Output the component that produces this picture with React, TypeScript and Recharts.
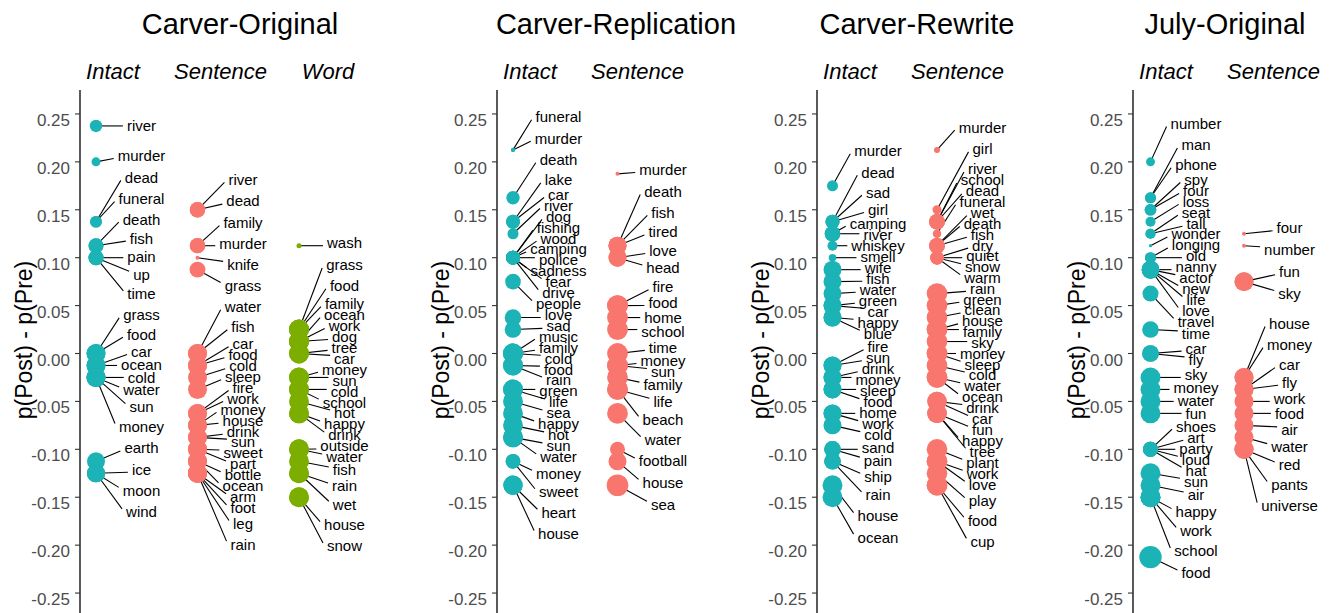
import React from 'react';
import { ScatterChart, Scatter, XAxis, YAxis } from 'recharts';

// p(Post) - p(Pre) per recalled word; n drives the point size
const coIntactWords = ['river', 'murder', 'dead', 'funeral', 'death', 'fish', 'pain', 'up', 'time', 'grass', 'food', 'car', 'ocean', 'cold', 'water', 'sun', 'money', 'earth', 'ice', 'moon', 'wind'];
const coIntactDiff = [0.2375, 0.2, 0.1375, 0.1375, 0.1125, 0.1125, 0.1, 0.1, 0.1, 0, 0, -0.0125, -0.0125, -0.025, -0.025, -0.025, -0.025, -0.1125, -0.125, -0.125, -0.125];
const coIntactN = [4.3, 2.25, 3.8, 3.8, 6.25, 6.25, 6.25, 6.25, 6.25, 10, 10, 10, 10, 10, 10, 10, 10, 9, 9, 9, 9];

const coSentenceWords = ['river', 'dead', 'family', 'murder', 'knife', 'grass', 'water', 'fish', 'car', 'food', 'cold', 'sleep', 'fire', 'work', 'money', 'house', 'drink', 'sun', 'sweet', 'part', 'bottle', 'ocean', 'arm', 'foot', 'leg', 'rain'];
const coSentenceDiff = [0.15, 0.15, 0.1125, 0.1125, 0.1, 0.0875, 0, 0, -0.0125, -0.0125, -0.025, -0.0375, -0.0625, -0.0625, -0.075, -0.075, -0.0875, -0.0875, -0.1, -0.1, -0.1125, -0.1125, -0.125, -0.125, -0.125, -0.125];
const coSentenceN = [6.5, 6.5, 6.5, 6.5, 0.45, 7, 10, 10, 10, 10, 10, 10, 10, 10, 10, 10, 10, 10, 10, 10, 10, 10, 10, 10, 10, 10];

const coWordWords = ['wash', 'grass', 'food', 'family', 'ocean', 'work', 'dog', 'tree', 'car', 'money', 'sun', 'cold', 'school', 'hot', 'happy', 'drink', 'outside', 'water', 'fish', 'rain', 'wet', 'house', 'snow'];
const coWordDiff = [0.1125, 0.025, 0.025, 0.025, 0.0125, 0.0125, 0.0125, 0, 0, -0.025, -0.025, -0.0375, -0.0375, -0.05, -0.0625, -0.0625, -0.1, -0.1, -0.1125, -0.125, -0.125, -0.15, -0.15];
const coWordN = [0.7, 11, 11, 11, 11, 11, 11, 11, 11, 11, 11, 11, 11, 11, 11, 11, 11, 11, 11, 11, 11, 11, 11];

const crIntactWords = ['funeral', 'murder', 'death', 'lake', 'car', 'river', 'dog', 'fishing', 'wood', 'camping', 'police', 'sadness', 'fear', 'drive', 'people', 'love', 'sad', 'music', 'family', 'cold', 'food', 'rain', 'green', 'life', 'sea', 'happy', 'hot', 'sun', 'water', 'money', 'sweet', 'heart', 'house'];
const crIntactDiff = [0.2125, 0.2125, 0.1625, 0.1375, 0.1375, 0.125, 0.1, 0.1, 0.1, 0.1, 0.1, 0.1, 0.1, 0.1, 0.075, 0.0375, 0.025, 0, 0, 0, -0.0125, -0.0125, -0.0375, -0.0375, -0.05, -0.0625, -0.075, -0.0875, -0.0875, -0.1125, -0.1125, -0.1375, -0.1375];
const crIntactN = [0.45, 0.45, 5, 5.4, 5.4, 3.4, 5.4, 5.4, 5.4, 5.4, 5.4, 5.4, 5.4, 5.4, 6.8, 7.7, 7.7, 11, 11, 11, 11, 11, 11, 11, 11, 11, 11, 11, 11, 6, 6, 10.4, 10.4];

const crSentenceWords = ['murder', 'death', 'fish', 'tired', 'love', 'head', 'fire', 'food', 'home', 'school', 'time', 'money', 'sun', 'family', 'life', 'beach', 'water', 'football', 'house', 'sea'];
const crSentenceDiff = [0.1875, 0.1125, 0.1125, 0.1125, 0.1, 0.1, 0.05, 0.05, 0.0375, 0.025, 0, -0.0125, -0.0125, -0.025, -0.0375, -0.0375, -0.0625, -0.1, -0.1125, -0.1375];
const crSentenceN = [0.45, 9, 9, 9, 9, 9, 12, 12, 12, 12, 12, 12, 12, 12, 12, 12, 12, 6.25, 9, 13];

const cwIntactWords = ['murder', 'dead', 'sad', 'girl', 'camping', 'river', 'whiskey', 'smell', 'wife', 'fish', 'water', 'green', 'car', 'happy', 'blue', 'fire', 'sun', 'drink', 'money', 'sleep', 'food', 'home', 'work', 'cold', 'sand', 'pain', 'ship', 'rain', 'house', 'ocean'];
const cwIntactDiff = [0.175, 0.1375, 0.1375, 0.1375, 0.125, 0.125, 0.1125, 0.1, 0.0875, 0.075, 0.0625, 0.05, 0.05, 0.0375, 0.0375, -0.0125, -0.0125, -0.025, -0.025, -0.0375, -0.0375, -0.0625, -0.0625, -0.075, -0.1, -0.1, -0.1125, -0.1125, -0.1375, -0.15];
const cwIntactN = [3.4, 5.4, 5.4, 5.4, 6.8, 6.8, 2.8, 1.6, 9, 9, 9, 9, 9, 9, 9, 9, 9, 9, 9, 9, 9, 9, 9, 9, 7.7, 7.7, 7.7, 7.7, 11, 11];

const cwSentenceWords = ['murder', 'girl', 'river', 'school', 'dead', 'funeral', 'wet', 'death', 'fish', 'dry', 'quiet', 'snow', 'warm', 'rain', 'green', 'clean', 'house', 'family', 'sky', 'money', 'sleep', 'cold', 'water', 'ocean', 'drink', 'car', 'fun', 'happy', 'tree', 'plant', 'work', 'love', 'play', 'food', 'cup'];
const cwSentenceDiff = [0.2125, 0.15, 0.1375, 0.1375, 0.1375, 0.125, 0.1125, 0.1125, 0.1125, 0.1, 0.1, 0.1, 0.1, 0.0625, 0.05, 0.0375, 0.025, 0.025, 0.0125, 0, 0, -0.0125, -0.025, -0.025, -0.05, -0.05, -0.0625, -0.0625, -0.0625, -0.1, -0.1125, -0.1125, -0.125, -0.1375, -0.1375];
const cwSentenceN = [1, 2.25, 6.8, 6.8, 6.8, 2, 6.8, 6.8, 6.8, 5, 5, 5, 5, 11.8, 11.8, 11.8, 11.8, 11.8, 11.8, 11.8, 11.8, 11.8, 11.8, 11.8, 10.4, 10.4, 10.4, 10.4, 10.4, 11.8, 11.8, 11.8, 11.8, 11.8, 11.8];

const joIntactWords = ['number', 'man', 'phone', 'spy', 'four', 'loss', 'seat', 'tall', 'wonder', 'longing', 'old', 'nanny', 'actor', 'new', 'life', 'love', 'travel', 'time', 'car', 'fly', 'sky', 'money', 'water', 'fun', 'shoes', 'art', 'party', 'loud', 'hat', 'sun', 'air', 'happy', 'work', 'school', 'food'];
const joIntactDiff = [0.2, 0.1625, 0.1625, 0.15, 0.15, 0.1375, 0.125, 0.125, 0.1125, 0.1, 0.1, 0.0875, 0.0875, 0.0875, 0.0875, 0.0875, 0.0625, 0.025, 0, 0, -0.025, -0.0375, -0.05, -0.0625, -0.1, -0.1, -0.1, -0.1, -0.1, -0.125, -0.1375, -0.15, -0.15, -0.15, -0.2125];
const joIntactN = [2.25, 3.4, 3.4, 3.8, 3.8, 2.8, 2.8, 2.8, 0.3, 3.4, 3.4, 8.6, 8.6, 8.6, 8.6, 8.6, 7.1, 7.7, 7.7, 7.7, 11, 11, 11, 11, 6.25, 6.25, 6.25, 6.25, 6.25, 11, 11, 11, 11, 11, 14];

const joSentenceWords = ['four', 'number', 'fun', 'sky', 'house', 'money', 'car', 'fly', 'work', 'food', 'air', 'water', 'red', 'pants', 'universe'];
const joSentenceDiff = [0.125, 0.1125, 0.075, 0.075, -0.025, -0.025, -0.0375, -0.0375, -0.05, -0.0625, -0.075, -0.0875, -0.1, -0.1, -0.1];
const joSentenceN = [0.45, 0.45, 10, 10, 10, 10, 10, 10, 10, 10, 10, 10, 10, 10, 10];

const yTicks = [-0.25, -0.2, -0.15, -0.1, -0.05, 0, 0.05, 0.1, 0.15, 0.2, 0.25];

const COLORS: Record<string, string> = { Intact: '#1BB3B5', Sentence: '#F8766D', Word: '#7CAE00' };
const FONT = '"Liberation Sans", Arial, Helvetica, sans-serif';

// layout
const PLOT_TOP = 90;
const PLOT_H = 527;
const Y_MIN = -0.275;
const Y_MAX = 0.275;
const CHART_H = PLOT_TOP + PLOT_H;
const AXIS_W = 80;
const LABEL_DX = 45.5;
const LABEL_SIZE = 15;

// label repel settings (px)
const SOFT_GAP = 22;
const HARD_GAP = 11;
const ATTRACT = 0.02;
const REPEL = 2;
const PUSH_SOFT = 1.5;
const LABEL_TOP = 102;
const LABEL_BOTTOM = 600;

const toPx = (v: number) => PLOT_TOP + ((Y_MAX - v) / (Y_MAX - Y_MIN)) * PLOT_H;

let ctx: CanvasRenderingContext2D | null = null;
const textWidth = (s: string) => {
  if (!ctx && typeof document !== 'undefined') ctx = document.createElement('canvas').getContext('2d');
  if (!ctx) return s.length * 7.5;
  ctx.font = `${LABEL_SIZE}px ${FONT}`;
  return ctx.measureText(s).width;
};

// 1-d ggrepel-like spreading: pull to the point, saturating push between neighbours
function spread(targets: number[]): number[] {
  const n = targets.length;
  const p = targets.slice();
  for (let it = 0; it < 8000; it++) {
    const g = targets.map((t, i) => ATTRACT * (t - p[i]));
    for (let i = 0; i + 1 < n; i++) {
      const o = SOFT_GAP - (p[i + 1] - p[i]);
      if (o > 0) {
        const f = (REPEL * o) / (1 + o / PUSH_SOFT);
        g[i] -= f;
        g[i + 1] += f;
      }
    }
    for (let i = 0; i < n; i++) p[i] += 0.15 * g[i];
    for (let k = 0; k < 3; k++) {
      for (let i = 0; i + 1 < n; i++) {
        const o = HARD_GAP - (p[i + 1] - p[i]);
        if (o > 0) {
          p[i] -= o / 2;
          p[i + 1] += o / 2;
        }
      }
      for (let i = 0; i < n; i++) p[i] = Math.max(LABEL_TOP, Math.min(LABEL_BOTTOM, p[i]));
    }
  }
  return p;
}

type Column = { cond: string; words: string[]; diff: number[]; n: number[] };
type Panel = { title: string; axisX: number; width: number; offset: number; step: number; titleX: number; columns: Column[] };

const panels: Panel[] = [
  {
    title: 'Carver-Original', axisX: 80, width: 400, offset: 16, step: 101.5, titleX: 240,
    columns: [
      { cond: 'Intact', words: coIntactWords, diff: coIntactDiff, n: coIntactN },
      { cond: 'Sentence', words: coSentenceWords, diff: coSentenceDiff, n: coSentenceN },
      { cond: 'Word', words: coWordWords, diff: coWordDiff, n: coWordN },
    ],
  },
  {
    title: 'Carver-Replication', axisX: 497, width: 320, offset: 16, step: 104.5, titleX: 616,
    columns: [
      { cond: 'Intact', words: crIntactWords, diff: crIntactDiff, n: crIntactN },
      { cond: 'Sentence', words: crSentenceWords, diff: crSentenceDiff, n: crSentenceN },
    ],
  },
  {
    title: 'Carver-Rewrite', axisX: 817, width: 320, offset: 15.5, step: 104.5, titleX: 917,
    columns: [
      { cond: 'Intact', words: cwIntactWords, diff: cwIntactDiff, n: cwIntactN },
      { cond: 'Sentence', words: cwSentenceWords, diff: cwSentenceDiff, n: cwSentenceN },
    ],
  },
  {
    title: 'July-Original', axisX: 1133, width: 281, offset: 17.5, step: 93.5, titleX: 1225,
    columns: [
      { cond: 'Intact', words: joIntactWords, diff: joIntactDiff, n: joIntactN },
      { cond: 'Sentence', words: joSentenceWords, diff: joSentenceDiff, n: joSentenceN },
    ],
  },
];

const buildRows = (col: Column, ci: number) => {
  const targets = col.diff.map(toPx);
  const labels = spread(targets);
  return col.words.map((word, i) => ({
    x: ci,
    y: col.diff[i],
    n: col.n[i],
    word,
    dy: labels[i] - targets[i],
    w: textWidth(word),
  }));
};

const LabelShape = (props: any) => {
  const { cx, cy, payload } = props;
  if (cx == null || cy == null) return <g />;
  const ly = cy + payload.dy;
  const lx = cx + LABEL_DX;
  const ex = lx - payload.w / 2 - 4;
  const ey = Math.max(ly - 3, Math.min(ly + 3, cy));
  return (
    <g>
      <line x1={cx} y1={cy} x2={ex} y2={ey} stroke="#000" strokeWidth={1.1} />
      <text x={lx} y={ly} dy="0.36em" textAnchor="middle" fontSize={LABEL_SIZE} fontFamily={FONT} fill="#000">
        {payload.word}
      </text>
    </g>
  );
};

const pointShape = (color: string) => (props: any) => {
  const { cx, cy, payload } = props;
  if (cx == null || cy == null) return <g />;
  return <circle cx={cx} cy={cy} r={3 * Math.sqrt(payload.n)} fill={color} />;
};

const YTick = (props: any) => {
  const { x, y, payload } = props;
  return (
    <text x={x} y={y + 6} dy="0.355em" textAnchor="end" fontSize={17} fontFamily={FONT} fill="#4D4D4D">
      {Number(payload.value).toFixed(2)}
    </text>
  );
};

const PanelChart = ({ panel }: { panel: Panel }) => {
  const plotW = panel.width - AXIS_W;
  const xDomain = [-panel.offset / panel.step, (plotW - panel.offset) / panel.step];
  const rows = panel.columns.map((c, i) => buildRows(c, i));
  return (
    <div style={{ position: 'absolute', left: panel.axisX - AXIS_W, top: 0 }}>
      <ScatterChart width={panel.width} height={CHART_H} margin={{ top: PLOT_TOP, right: 0, bottom: 0, left: 0 }}>
        <XAxis type="number" dataKey="x" domain={xDomain} hide allowDataOverflow />
        <YAxis
          type="number"
          dataKey="y"
          domain={[Y_MIN, Y_MAX]}
          ticks={yTicks}
          width={AXIS_W}
          allowDataOverflow
          axisLine={{ stroke: '#000', strokeWidth: 1.3 }}
          tickLine={{ stroke: '#333', strokeWidth: 1.1 }}
          tickSize={5}
          tickMargin={5}
          tick={<YTick />}
          interval={0}
        />
        {rows.map((r, i) => (
          <Scatter key={'l' + i} data={r} shape={LabelShape} isAnimationActive={false} />
        ))}
        {rows.map((r, i) => (
          <Scatter key={'p' + i} data={r} shape={pointShape(COLORS[panel.columns[i].cond])} isAnimationActive={false} />
        ))}
      </ScatterChart>
    </div>
  );
};

export default function App() {
  return (
    <div style={{ position: 'fixed', left: 0, top: 0, width: 1334, height: 613, overflow: 'hidden', background: '#fff' }}>
      {panels.map((p) => (
        <PanelChart key={p.title} panel={p} />
      ))}
      <svg width={1334} height={613} style={{ position: 'absolute', left: 0, top: 0, pointerEvents: 'none' }}>
        {panels.map((p) => (
          <g key={p.title} fontFamily={FONT}>
            <text x={p.titleX} y={34} textAnchor="middle" fontSize={29} fill="#000">
              {p.title}
            </text>
            {p.columns.map((c, i) => (
              <text key={c.cond} x={p.axisX + 33 + 107.5 * i} y={79} textAnchor="middle" fontSize={22} fontStyle="italic" fill="#000">
                {c.cond}
              </text>
            ))}
            <text
              x={p.axisX - 56}
              y={340}
              textAnchor="middle"
              dominantBaseline="central"
              fontSize={23}
              fill="#000"
              transform={`rotate(-90 ${p.axisX - 56} 340)`}
            >
              p(Post) - p(Pre)
            </text>
          </g>
        ))}
      </svg>
    </div>
  );
}
